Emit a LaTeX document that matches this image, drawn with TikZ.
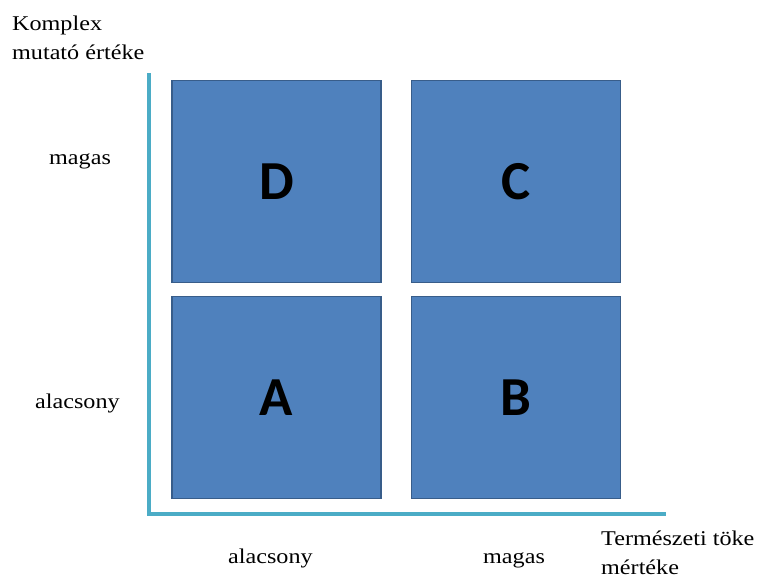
\documentclass[tikz,border=0pt]{standalone}
\usepackage{fontspec}
\setmainfont{Liberation Serif}[FakeStretch=1.15]
\newfontfamily\cellfont{Carlito}
\definecolor{cellblue}{HTML}{4F81BD}
\definecolor{celledge}{HTML}{385D8A}
\definecolor{axisteal}{HTML}{4BACC6}
\begin{document}
\begin{tikzpicture}[x=1pt, y=-1pt,
		cell/.style={draw=celledge, line width=1.5pt, fill=cellblue, minimum width=209pt, minimum height=202pt, inner sep=0pt, font=\cellfont\bfseries\fontsize{55}{55}\selectfont},
		axisline/.style={draw=axisteal, line width=3.5pt, line join=miter},
		lbl/.style={inner sep=0pt, align=left, font=\fontsize{21}{29}\selectfont}]
	\useasboundingbox (0,0) rectangle (758,587);
	% quadrants
	\node[cell] (D) at (276.5,181.5) {D};
	\node[cell] (C) at (516,181.5) {C};
	\node[cell] (A) at (276.5,397.5) {A};
	\node[cell] (B) at (516,397.5) {B};
	% axes
	\coordinate (ytop) at (149,73);
	\coordinate (origin) at (149,514);
	\coordinate (xend) at (666,514);
	\draw[axisline] (ytop) -- (origin) -- (xend);
	% labels
	\node[lbl, anchor=north west] (ylabel) at (12,16) {Komplex\\mutató értéke};
	\node[lbl, anchor=base west] (yhigh) at (49,164) {magas};
	\node[lbl, anchor=base west] (ylow) at (35,408) {alacsony};
	\node[lbl, anchor=base west] (xlow) at (228,563) {alacsony};
	\node[lbl, anchor=base west] (xhigh) at (483,563) {magas};
	\node[lbl, anchor=north west] (xlabel) at (601,531) {Természeti töke\\mértéke};
\end{tikzpicture}
\end{document}
